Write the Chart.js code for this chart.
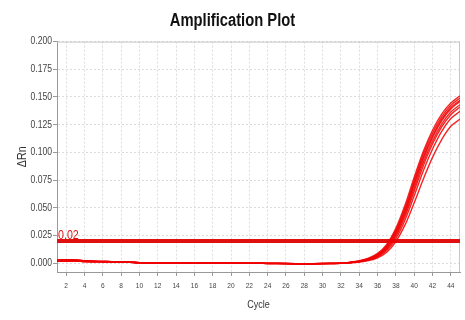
<!DOCTYPE html>
<html>
<head>
<meta charset="utf-8">
<script src="https://cdn.jsdelivr.net/npm/chart.js@4.4.1/dist/chart.umd.min.js"></script>
<style>
  html, body { margin: 0; padding: 0; background: #fff; }
  #wrap { width: 465px; height: 320px; }
</style>
</head>
<body>
<div id="wrap"><canvas id="c" width="465" height="320"></canvas></div>
<script>
// ---- data ----
const titleText = "Amplification Plot";
const xTitle = "Cycle";
const yTitle = "\u0394Rn";
const xTickLabels = [2,4,6,8,10,12,14,16,18,20,22,24,26,28,30,32,34,36,38,40,42,44];
const yTickLabels = [0.000,0.025,0.050,0.075,0.100,0.125,0.150,0.175,0.200];
const threshold = 0.02;
const thresholdLabel = "0.02";
// cycles 1..32 baseline (two slightly different baselines)
const baselineA = [0.0016,0.0018,0.0019,0.0015,0.0013,0.0012,0.0010,0.0011,0.0007,0.0003,0.0002,0.0002,0.0003,0.0004,0.0002,-0.0002,0.0003,0.0001,0.0003,-0.0001,-0.0001,-0.0002,-0.0002,-0.0003,-0.0003,-0.0004,-0.0006,-0.0010,-0.0006,-0.0004,-0.0003,-0.0002];
const baselineB = [0.0028,0.0030,0.0029,0.0022,0.0017,0.0015,0.0013,0.0013,0.0009,0.0005,0.0003,0.0003,0.0004,0.0004,0.0003,0.0000,0.0004,0.0002,0.0003,0.0000,0.0000,-0.0001,-0.0001,-0.0002,-0.0002,-0.0003,-0.0005,-0.0008,-0.0005,-0.0003,-0.0002,-0.0001];
// cycles 33..45 per well
const tail1 = [0.0008,0.0021,0.0044,0.0088,0.0170,0.0315,0.0525,0.0775,0.1010,0.1200,0.1345,0.1445,0.1510];
const tail2 = [0.0007,0.0019,0.0040,0.0080,0.0158,0.0298,0.0500,0.0748,0.0985,0.1175,0.1320,0.1425,0.1490];
const tail3 = [0.0006,0.0017,0.0037,0.0075,0.0150,0.0285,0.0482,0.0725,0.0960,0.1150,0.1300,0.1405,0.1470];
const tail4 = [0.0006,0.0016,0.0035,0.0071,0.0142,0.0272,0.0465,0.0705,0.0940,0.1132,0.1285,0.1392,0.1460];
const tail5 = [0.0005,0.0015,0.0032,0.0066,0.0133,0.0257,0.0443,0.0678,0.0910,0.1102,0.1255,0.1365,0.1430];
const tail6 = [0.0005,0.0014,0.0030,0.0062,0.0125,0.0243,0.0422,0.0650,0.0880,0.1075,0.1230,0.1340,0.1410];
const tail7 = [0.0004,0.0012,0.0027,0.0056,0.0113,0.0222,0.0390,0.0608,0.0835,0.1030,0.1190,0.1305,0.1370];
const tail8 = [0.0003,0.0010,0.0023,0.0048,0.0098,0.0195,0.0345,0.0545,0.0760,0.0955,0.1115,0.1235,0.1300];
const wells = [
  baselineA.concat(tail1), baselineB.concat(tail2), baselineA.concat(tail3), baselineB.concat(tail4),
  baselineA.concat(tail5), baselineB.concat(tail6), baselineA.concat(tail7), baselineB.concat(tail8)
];
const cycles = wells[0].map((_, i) => i + 1);

const FONT = "'Liberation Sans', Arial, sans-serif";

// condensed text rendering (the reference uses a narrow face)
(function () {
  const proto = CanvasRenderingContext2D.prototype;
  const orig = proto.fillText;
  proto.fillText = function (t, x, y) {
    this.save();
    this.translate(x, y);
    this.scale(0.82, 1);
    orig.call(this, t, 0, 0);
    this.restore();
  };
})();

const datasets = wells.map(w => ({
  data: w.map((v, i) => ({ x: cycles[i], y: v })),
  borderColor: 'rgba(240,0,0,0.85)',
  borderWidth: 1.4,
  pointRadius: 0,
  fill: false,
  cubicInterpolationMode: 'monotone'
}));
datasets.push({
  data: [{ x: cycles[0], y: threshold }, { x: cycles[cycles.length - 1], y: threshold }],
  borderColor: '#e01010',
  borderWidth: 4,
  pointRadius: 0,
  fill: false
});

const framePlugin = {
  id: 'frame',
  beforeDatasetsDraw(chart) {
    const { ctx, chartArea: a } = chart;
    ctx.save();
    ctx.strokeStyle = '#c8c8c8';
    ctx.lineWidth = 1;
    ctx.beginPath();
    ctx.moveTo(a.left, a.top + 0.5); ctx.lineTo(a.right - 0.5, a.top + 0.5); ctx.lineTo(a.right - 0.5, a.bottom);
    ctx.stroke();
    ctx.restore();
  },
  afterDatasetsDraw(chart) {
    const { ctx, scales } = chart;
    const y = scales.y.getPixelForValue(threshold);
    ctx.save();
    ctx.fillStyle = '#e01010';
    ctx.font = "13px " + FONT;
    ctx.textBaseline = 'alphabetic';
    ctx.textAlign = 'left';
    ctx.fillText(thresholdLabel, scales.x.left + 1, y - 2);
    ctx.restore();
  }
};

new Chart(document.getElementById('c'), {
  type: 'line',
  data: { datasets },
  options: {
    responsive: false,
    animation: false,
    events: [],
    layout: { padding: { left: 5, right: 5, top: 0, bottom: 0 } },
    plugins: {
      legend: { display: false },
      tooltip: { enabled: false },
      title: {
        display: true, text: titleText, color: '#111',
        font: { family: FONT, size: 18, weight: 'bold' },
        padding: { top: 10, bottom: 10 }
      }
    },
    scales: {
      x: {
        type: 'linear', min: 1, max: 45,
        afterBuildTicks: s => { s.ticks = xTickLabels.map(v => ({ value: v })); },
        afterFit: s => { s.height = 48; },
        ticks: { color: '#444', font: { family: FONT, size: 8 }, padding: 5, maxRotation: 0, autoSkip: false },
        grid: { color: '#dcdcdc', tickColor: '#999', tickLength: 4, tickBorderDash: [] },
        border: { color: '#999', dash: [2, 2] },
        title: { display: true, text: xTitle, color: '#333', font: { family: FONT, size: 11 }, padding: { top: 0, bottom: 8 } }
      },
      y: {
        type: 'linear', min: -0.008, max: 0.2,
        afterBuildTicks: s => { s.ticks = yTickLabels.map(v => ({ value: v })); },
        afterFit: s => { s.width = 52; },
        ticks: { color: '#444', font: { family: FONT, size: 10.5 }, padding: 1, callback: v => v.toFixed(3) },
        grid: { color: '#dcdcdc', tickColor: '#999', tickLength: 4, tickBorderDash: [] },
        border: { color: '#999', dash: [2, 2] },
        title: { display: true, text: yTitle, color: '#333', font: { family: FONT, size: 13 }, padding: { top: 10, bottom: 0 } }
      }
    }
  },
  plugins: [framePlugin]
});
</script>
</body>
</html>
